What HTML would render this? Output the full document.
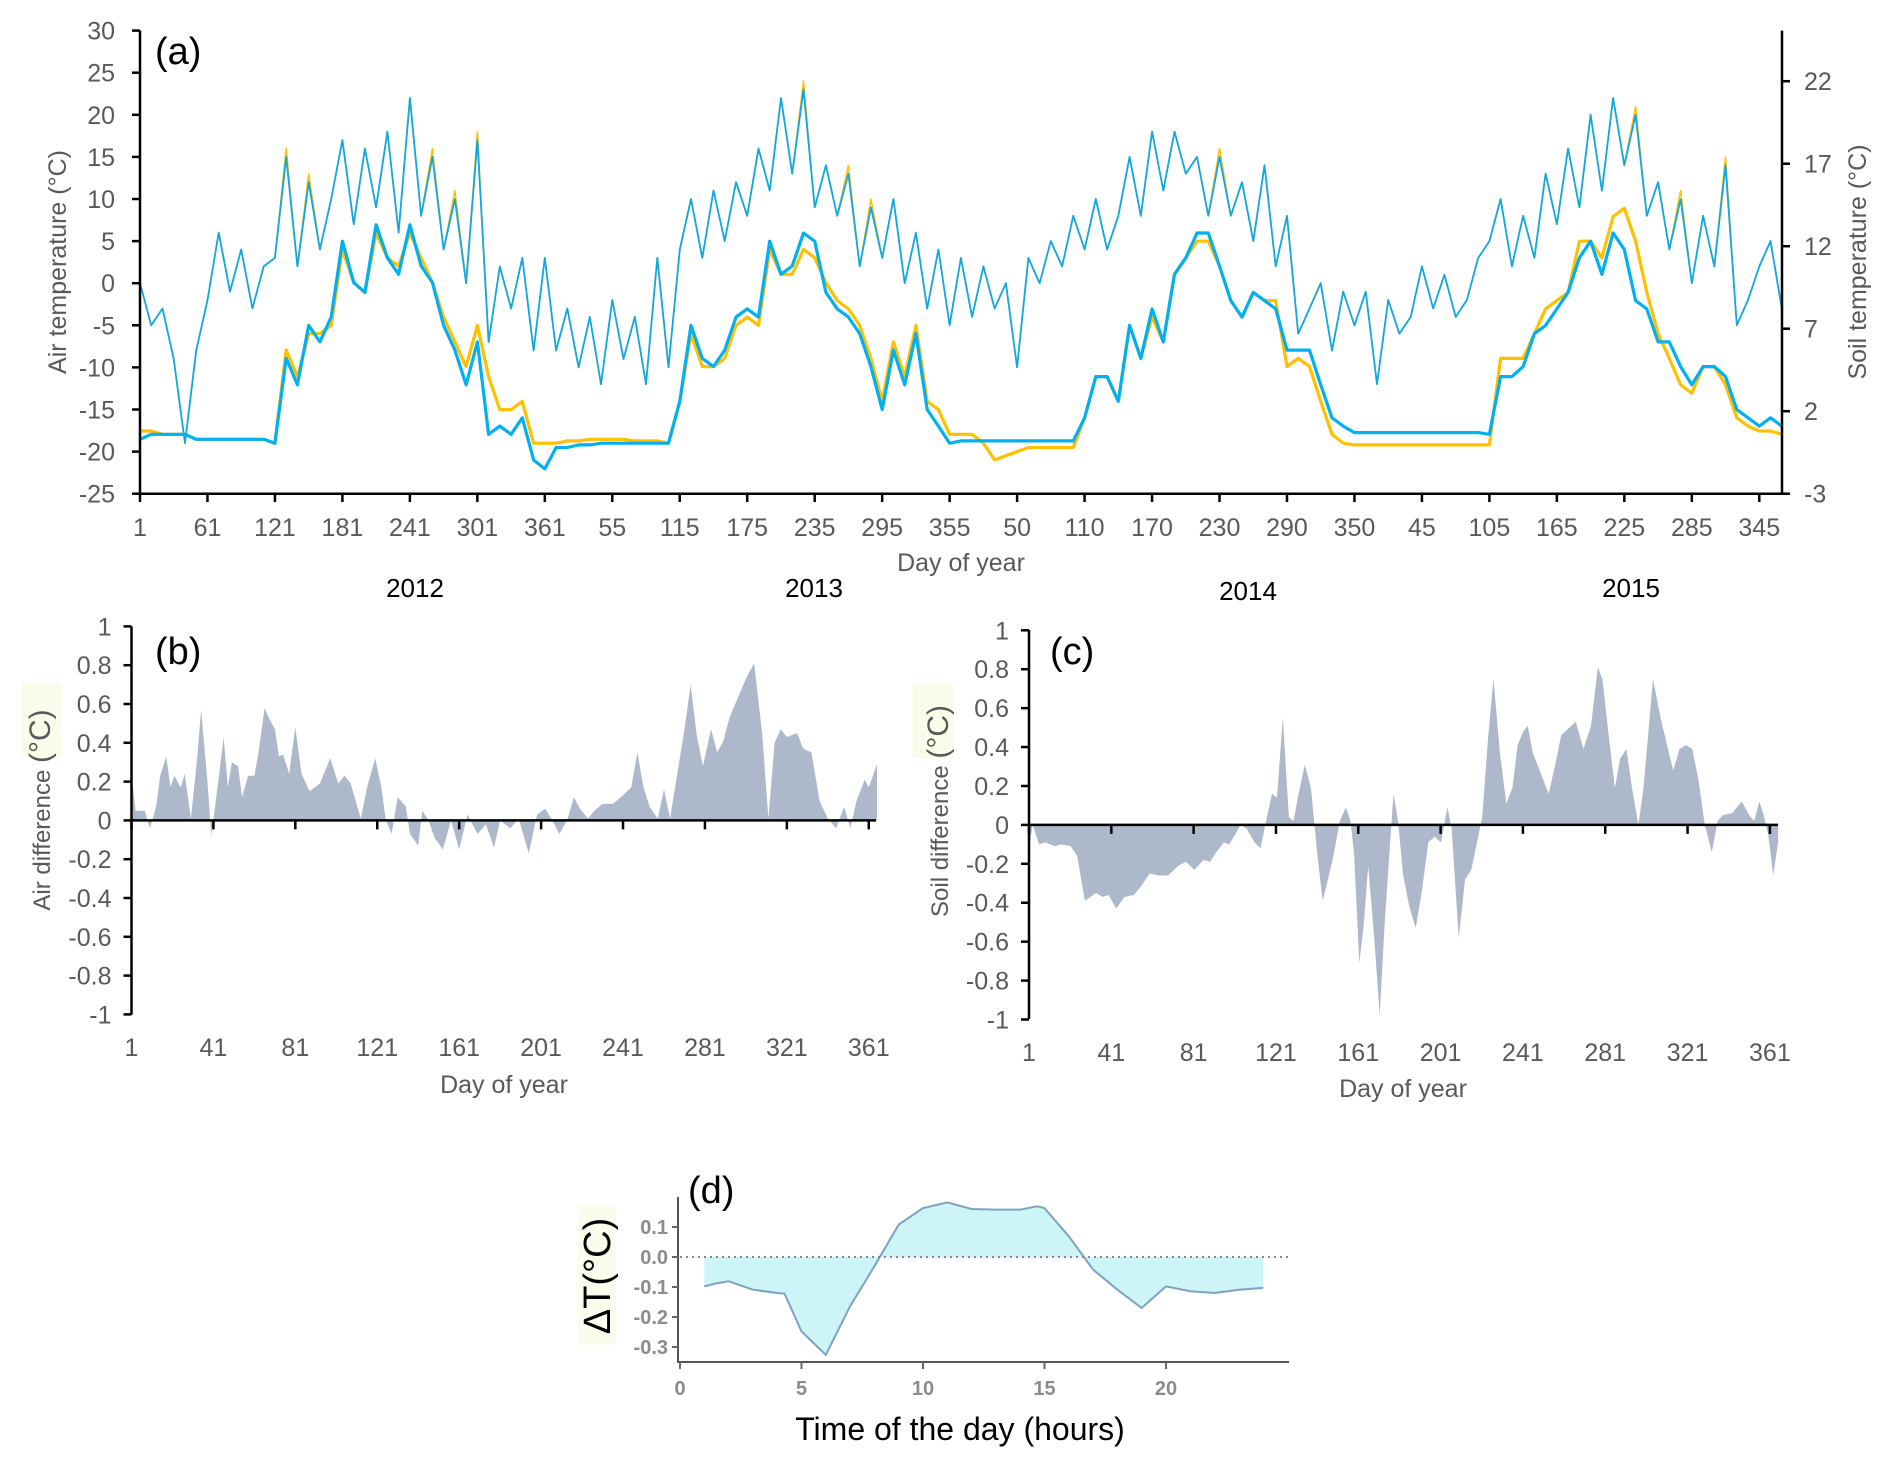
<!DOCTYPE html>
<html><head><meta charset="utf-8"><style>
html,body{margin:0;padding:0;background:#fff;}
svg{display:block;font-family:"Liberation Sans",Arial,sans-serif;}
</style></head><body>
<svg id="fig" width="1892" height="1467" viewBox="0 0 1892 1467">
<rect width="1892" height="1467" fill="#fff"/>
<g id="pa"></g>
<g id="pb"></g>
<g id="pc"></g>
<g id="pd"></g>
<text x="155" y="64" font-size="38" fill="#000">(a)</text>
<text transform="translate(66,262) rotate(-90)" text-anchor="middle" font-size="25" fill="#595959">Air temperature (°C)</text>
<text transform="translate(1866,262) rotate(-90)" text-anchor="middle" font-size="25" fill="#595959">Soil temperature (°C)</text>
<text x="961" y="571" text-anchor="middle" font-size="25" fill="#595959">Day of year</text>
<text x="415" y="597" text-anchor="middle" font-size="26" fill="#000">2012</text>
<text x="814" y="597" text-anchor="middle" font-size="26" fill="#000">2013</text>
<text x="1248" y="600" text-anchor="middle" font-size="26" fill="#000">2014</text>
<text x="1631" y="597" text-anchor="middle" font-size="26" fill="#000">2015</text>

<text x="155" y="664" font-size="38" fill="#000">(b)</text>
<rect x="21" y="683" width="40" height="75" fill="#fbfbec"/>
<text transform="translate(50,810) rotate(-90)" text-anchor="middle" fill="#595959"><tspan font-size="24">Air difference </tspan><tspan font-size="30">(°C)</tspan></text>
<text x="504" y="1093" text-anchor="middle" font-size="25" fill="#595959">Day of year</text>

<text x="1050" y="664" font-size="38" fill="#000">(c)</text>
<rect x="913" y="683" width="40" height="75" fill="#fbfbec"/>
<text transform="translate(948,811) rotate(-90)" text-anchor="middle" fill="#595959"><tspan font-size="24">Soil difference </tspan><tspan font-size="30">(°C)</tspan></text>
<text x="1403" y="1097" text-anchor="middle" font-size="25" fill="#595959">Day of year</text>

<text x="688" y="1203" font-size="38" fill="#000">(d)</text>
<rect x="578" y="1205" width="38" height="140" fill="#fbfbee"/>
<text transform="translate(610,1276) rotate(-90)" text-anchor="middle" font-size="38" fill="#000">ΔT(°C)</text>
<text x="960" y="1440" text-anchor="middle" font-size="32" fill="#000">Time of the day (hours)</text>
</svg>
<script>
const aDayStep = 10;
const aTickLabels = ["1","61","121","181","241","301","361","55","115","175","235","295","355","50","110","170","230","290","350","45","105","165","225","285","345"];
const airTicks = [-25,-20,-15,-10,-5,0,5,10,15,20,25,30];
const soilTicks = [-3,2,7,12,17,22];
const airBlue = [0,-5,-3,-9,-19,-8,-2,6,-1,4,-3,2,3,
15,2,12,4,10,17,7,16,9,18,6,22,8,15,4,10,0,17,-7,2,-3,3,-8,3,
-8,-3,-10,-4,-12,-2,-9,-4,-12,3,-10,
4,10,3,11,5,12,8,16,11,22,13,23,9,14,8,13,2,9,3,10,0,6,-3,4,-5,
3,-4,2,-3,0,-10,3,0,5,2,8,
4,10,4,8,15,8,18,11,18,13,15,8,15,8,12,5,14,2,8,-6,-3,0,-8,-1,
-5,-1,-12,-2,-6,-4,2,-3,1,-4,-2,3,
5,10,2,8,3,13,7,16,9,20,11,22,14,20,8,12,4,10,0,8,2,14,-5,-2,2,5,-3];
const airOrange = [0,-5,-3,-9,-19,-8,-2,6,-1,4,-3,2,3,
16,2,13,4,10,17,7,16,9,18,6,22,8,16,4,11,0,18,-7,2,-3,3,-8,3,
-8,-3,-10,-4,-12,-2,-9,-4,-12,3,-10,
4,10,3,11,5,12,8,16,11,22,13,24,9,14,8,14,2,10,3,10,0,6,-3,4,-5,
3,-4,2,-3,0,-10,3,0,5,2,8,
4,10,4,8,15,8,18,11,18,13,15,8,16,8,12,5,14,2,8,-6,-3,0,-8,-1,
-5,-1,-12,-2,-6,-4,2,-3,1,-4,-2,3,
5,10,2,8,3,13,7,16,9,20,11,22,14,21,8,12,4,11,0,8,2,15,-5,-2,2,5,-3];
const soilBlue = [0.3,0.6,0.6,0.6,0.6,0.3,0.3,0.3,0.3,0.3,0.3,0.3,0.06,
5.2,3.6,7.2,6.2,7.7,12.3,9.8,9.2,13.3,11.3,10.3,13.3,10.8,9.8,7.2,5.7,3.6,6.2,0.6,1.1,0.6,1.6,-0.96,-1.5,
-0.2,-0.2,-0.04,-0.04,0.06,0.06,0.06,0.06,0.06,0.06,0.06,
2.6,7.2,5.2,4.7,5.7,7.7,8.2,7.7,12.3,10.3,10.8,12.8,12.3,9.2,8.2,7.7,6.7,4.7,2.1,5.7,3.6,6.7,2.1,1.1,0.06,
0.2,0.2,0.2,0.2,0.2,0.2,0.2,0.2,0.2,0.2,0.2,
1.6,4.1,4.1,2.6,7.2,5.2,8.2,6.2,10.3,11.3,12.8,12.8,10.8,8.7,7.7,9.2,8.7,8.2,5.7,5.7,5.7,3.6,1.6,1.1,
0.7,0.7,0.7,0.7,0.7,0.7,0.7,0.7,0.7,0.7,0.7,0.7,
0.6,4.1,4.1,4.7,6.7,7.2,8.2,9.2,11.3,12.3,10.3,12.8,11.8,8.7,8.2,6.2,6.2,4.7,3.6,4.7,4.7,4.1,2.1,1.6,1.1,1.6,1.1];
const soilOrange = [0.8,0.8,0.6,0.6,0.6,0.3,0.3,0.3,0.3,0.3,0.3,0.3,0.06,
5.7,4.1,6.7,6.7,7.2,11.8,9.8,9.2,12.8,11.3,10.8,12.8,11.3,9.8,7.7,6.2,4.7,7.2,4.1,2.1,2.1,2.6,0.06,0.06,
0.06,0.2,0.2,0.3,0.3,0.3,0.3,0.2,0.2,0.2,0.06,
2.6,6.7,4.7,4.7,5.2,7.2,7.7,7.2,11.8,10.3,10.3,11.8,11.3,9.8,8.7,8.2,7.2,5.2,2.6,6.2,4.1,7.2,2.6,2.1,0.6,
0.6,0.6,0.06,-0.96,-0.7,-0.45,-0.2,-0.2,-0.2,-0.2,-0.2,
1.6,4.1,4.1,2.6,7.2,5.2,7.7,6.2,10.3,11.3,12.3,12.3,10.8,8.7,7.7,9.2,8.7,8.7,4.7,5.2,4.7,2.6,0.6,0.06,
-0.04,-0.04,-0.04,-0.04,-0.04,-0.04,-0.04,-0.04,-0.04,-0.04,-0.04,-0.04,
-0.04,5.2,5.2,5.2,6.7,8.2,8.7,9.2,12.3,12.3,11.3,13.8,14.3,12.3,9.2,6.7,5.2,3.6,3.1,4.7,4.7,3.6,1.6,1.1,0.8,0.8,0.6];

const bTickLabels = ["1","41","81","121","161","201","241","281","321","361"];
const diffTicks = ["1","0.8","0.6","0.4","0.2","0","-0.2","-0.4","-0.6","-0.8","-1"];
const airDiffDays = [1,3,7.5,10,13,15,18,20,22,25,27,30,33,35,38,40,43,46,48,50,53,55,58,61,63,66,68,71,73,75,78,81,84,88,93,98,102,105,108,111,113,116,120,123,125,128,131,135,137,141,143,146,149,153,157,161,165,170,174,178,181,186,190,195,199,203,206,210,214,217,220,224,227,231,236,240,245,248,251,254,258,261,264,267,271,274,277,280,284,287,290,293,297,301,305,309,312,315,318,321,326,329,333,337,341,345,349,352,355,359,361,365];
const airDiffVals = [0.24,0.05,0.05,-0.04,0.07,0.23,0.33,0.17,0.23,0.17,0.24,0.01,0.31,0.57,0.21,-0.08,0.17,0.43,0.17,0.30,0.28,0.12,0.23,0.23,0.35,0.58,0.53,0.47,0.33,0.34,0.24,0.48,0.24,0.15,0.19,0.32,0.19,0.23,0.19,0.08,0.01,0.17,0.32,0.17,0.01,-0.07,0.12,0.07,-0.07,-0.13,0.05,0,-0.09,-0.15,0,-0.15,0.03,-0.07,-0.02,-0.14,0,-0.04,0.01,-0.17,0.03,0.06,0.01,-0.07,0.01,0.12,0.06,0.01,0.05,0.085,0.085,0.12,0.17,0.35,0.17,0.07,0.01,0.16,0.01,0.21,0.47,0.70,0.44,0.28,0.47,0.35,0.41,0.53,0.63,0.73,0.81,0.44,0.01,0.40,0.47,0.43,0.45,0.37,0.35,0.10,0.01,-0.04,0.07,-0.04,0.10,0.21,0.17,0.29];

const soilDiffDays = [1,2.8,5.9,9,13.6,16.7,21.3,24.4,28.1,33.6,36.7,39.7,43.4,47.4,52,55.1,59.7,64.3,68.6,73.5,77.3,81.3,85.9,89,92,95.7,98.2,101.2,103.7,106.8,110.5,113.5,116.6,119.1,121.5,124.3,127.3,129.5,132,135,138,141.2,143.7,146.7,148.9,152,155,157.2,159,161.5,163.7,165.8,168.9,171.4,173.8,176,178.1,180.3,182.7,185.8,188.9,191.9,195,198.1,201.2,204.3,206.4,209.8,212.9,215.9,218.7,221.2,224.2,226.7,229.8,232.9,235.9,238.4,241.2,243.3,245.8,249.5,253.5,256.5,259.6,263.6,266.7,270.4,274.1,277.4,279.6,282.7,285.7,288.2,291.3,294,297.1,299.6,304.2,307.9,311,314,317.1,320.2,323.3,326.3,329.4,332.8,335.6,338,342.6,347.3,351,353.4,355.9,358,360.2,362.6,365];
const soilDiffVals = [-0.12,0,-0.10,-0.09,-0.11,-0.10,-0.11,-0.16,-0.39,-0.35,-0.37,-0.36,-0.43,-0.37,-0.36,-0.32,-0.25,-0.26,-0.26,-0.21,-0.19,-0.23,-0.18,-0.19,-0.14,-0.09,-0.10,-0.05,0,-0.02,-0.09,-0.12,0.04,0.16,0.14,0.55,0.04,0.02,0.16,0.31,0.19,-0.16,-0.39,-0.26,-0.16,0.02,0.09,0.02,-0.16,-0.71,-0.51,-0.21,-0.60,-0.98,-0.51,-0.16,0.16,0.02,-0.25,-0.42,-0.53,-0.34,-0.09,-0.06,-0.09,0.09,-0.02,-0.58,-0.28,-0.23,-0.09,0.04,0.46,0.75,0.37,0.11,0.19,0.41,0.48,0.51,0.37,0.27,0.16,0.30,0.46,0.50,0.53,0.39,0.51,0.81,0.75,0.46,0.19,0.34,0.39,0.19,0,0.19,0.75,0.55,0.41,0.28,0.39,0.41,0.39,0.23,0,-0.14,0.02,0.05,0.06,0.12,0.05,0.02,0.12,0.05,-0.05,-0.26,-0.09];

const hours = [1,1.5,2,3,4,4.3,5,5.5,6,7,8,9,10,11,12,13,14,14.7,15,16,17,18,19,20,21,22,23,24];
const deltaT = [-0.098,-0.088,-0.081,-0.109,-0.12,-0.122,-0.248,-0.287,-0.326,-0.164,-0.031,0.108,0.163,0.182,0.16,0.158,0.158,0.169,0.163,0.069,-0.042,-0.109,-0.17,-0.098,-0.114,-0.12,-0.109,-0.103];
const dTicks = ["0.1","0.0","-0.1","-0.2","-0.3"];
const dTickVals = [0.1,0,-0.1,-0.2,-0.3];
const dXTicks = [0,5,10,15,20];

const NS = "http://www.w3.org/2000/svg";
function mk(tag, parent, attrs){
  const e = document.createElementNS(NS, tag);
  for (const k in attrs) e.setAttribute(k, attrs[k]);
  parent.appendChild(e);
  return e;
}

const pa = document.getElementById('pa');
const xa = d => 140 + d * 1.1245;
const ya = v => 30.6 + (30 - v) * 8.42;
const ys = v => 493.7 - (v + 3) * 16.5;
function linePath(arr, xf, yf, step){
  return arr.map((v,i)=>(i?'L':'M')+xf(i*step).toFixed(1)+','+yf(v).toFixed(1)).join('');
}
let p;
p = mk('path', pa, {d: linePath(airOrange, xa, ya, aDayStep), fill:'none', stroke:'#ffc000', 'stroke-width':1.5, 'stroke-linejoin':'round'});


p = mk('path', pa, {d: linePath(airBlue, xa, ya, aDayStep), fill:'none', stroke:'#10a8e0', 'stroke-width':1.8, 'stroke-linejoin':'round'});


p = mk('path', pa, {d: linePath(soilOrange, xa, ys, aDayStep), fill:'none', stroke:'#ffc000', 'stroke-width':3.2, 'stroke-linejoin':'round'});


p = mk('path', pa, {d: linePath(soilBlue, xa, ys, aDayStep), fill:'none', stroke:'#00b0f0', 'stroke-width':3.2, 'stroke-linejoin':'round'});



p = mk('path', pa, {d:'M140,30.6V493.7H1782V30.6', fill:'none', stroke:'#000', 'stroke-width':2.5});


airTicks.forEach(v=>{
  const y = ya(v);
  const t = mk('line', pa, {x1:132, x2:140, y1:y, y2:y, stroke:'#000', 'stroke-width':2.5});
  
  
  const l = mk('text', pa, {x:115, y:y+9, 'text-anchor':'end', 'font-size':25, fill:'#595959'});
  l.textContent = v;
  
  
});
soilTicks.forEach(v=>{
  const y = ys(v);
  const t = mk('line', pa, {x1:1782, x2:1790, y1:y, y2:y, stroke:'#000', 'stroke-width':2.5});
  
  
  const l = mk('text', pa, {x:1804, y:y+9, 'font-size':25, fill:'#595959'});
  l.textContent = v;
  
  
});
aTickLabels.forEach((s,i)=>{
  const x = xa(i*60);
  const t = mk('line', pa, {x1:x, x2:x, y1:493.7, y2:502, stroke:'#000', 'stroke-width':2.5});
  
  
  const l = mk('text', pa, {x:x, y:536, 'text-anchor':'middle', 'font-size':25, fill:'#595959'});
  l.textContent = s;
  
  
});

function diffPanel(g, days, vals, xf, yf, x0, x1, yTop, yBot, zeroY, labelX, labelY, nm){
  let d = 'M'+xf(days[0]).toFixed(1)+','+zeroY;
  days.forEach((dd,i)=>{ d += 'L'+xf(dd).toFixed(1)+','+yf(vals[i]).toFixed(1); });
  d += 'L'+xf(days[days.length-1]).toFixed(1)+','+zeroY+'Z';
  const a = mk('path', g, {d:d, fill:'#adb8ca', stroke:'none'});
  
  
  const ax = mk('path', g, {d:'M'+x0+','+yTop+'V'+yBot, fill:'none', stroke:'#000', 'stroke-width':2.5});
  
  
  const zx = mk('line', g, {x1:x0, x2:x1, y1:zeroY, y2:zeroY, stroke:'#000', 'stroke-width':2.5});
  
  
  diffTicks.forEach(s=>{
    const y = yf(parseFloat(s));
    const t = mk('line', g, {x1:x0-8, x2:x0, y1:y, y2:y, stroke:'#000', 'stroke-width':2.5});
    
    
    const l = mk('text', g, {x:x0-20, y:y+9, 'text-anchor':'end', 'font-size':25, fill:'#595959'});
    l.textContent = s;
    
    
  });
  bTickLabels.forEach(s=>{
    const x = xf(parseFloat(s));
    const t = mk('line', g, {x1:x, x2:x, y1:zeroY, y2:zeroY+9, stroke:'#000', 'stroke-width':2.5});
    
    
    const l = mk('text', g, {x:x, y:labelY, 'text-anchor':'middle', 'font-size':25, fill:'#595959'});
    l.textContent = s;
    
    
  });
}
const xb = d => 131.5 + (d-1)*2.048;
const yb = v => 820.4 - v*194;
diffPanel(document.getElementById('pb'), airDiffDays, airDiffVals, xb, yb, 131.5, 876, 626.5, 1014.6, 820.4, 0, 1056, 'air-difference');
const xc = d => 1029 + (d-1)*2.058;
const yc = v => 824.9 - v*194.6;
diffPanel(document.getElementById('pc'), soilDiffDays, soilDiffVals, xc, yc, 1029, 1778, 630, 1019, 824.9, 0, 1061, 'soil-difference');

const pd = document.getElementById('pd');
const xd = h => 680 + h*24.3;
const yd = v => 1257 - v*300;
let dd = 'M'+xd(hours[0])+','+yd(0);
hours.forEach((h,i)=>{ dd += 'L'+xd(h).toFixed(1)+','+yd(deltaT[i]).toFixed(1); });
dd += 'L'+xd(hours[hours.length-1])+','+yd(0)+'Z';
p = mk('path', pd, {d:dd, fill:'#cdf4f7', stroke:'none'});


p = mk('path', pd, {d: hours.map((h,i)=>(i?'L':'M')+xd(h).toFixed(1)+','+yd(deltaT[i]).toFixed(1)).join(''), fill:'none', stroke:'#7ea3bf', 'stroke-width':2});


p = mk('line', pd, {x1:680, x2:1292, y1:yd(0), y2:yd(0), stroke:'#888', 'stroke-width':2, 'stroke-dasharray':'2,4'});


p = mk('path', pd, {d:'M678,1197V1362H1289', fill:'none', stroke:'#555', 'stroke-width':2});


dTickVals.forEach((v,i)=>{
  const y = yd(v);
  const t = mk('line', pd, {x1:672, x2:678, y1:y, y2:y, stroke:'#666', 'stroke-width':2});
  
  
  const l = mk('text', pd, {x:668, y:y+7, 'text-anchor':'end', 'font-size':20, 'font-weight':'bold', fill:'#8c8c8c'});
  l.textContent = dTicks[i];
  
  
});
dXTicks.forEach(h=>{
  const x = xd(h);
  const t = mk('line', pd, {x1:x, x2:x, y1:1362, y2:1369, stroke:'#666', 'stroke-width':2});
  
  
  const l = mk('text', pd, {x:x, y:1395, 'text-anchor':'middle', 'font-size':20, 'font-weight':'bold', fill:'#8c8c8c'});
  l.textContent = h;
  
  
});
</script>
</body></html>
